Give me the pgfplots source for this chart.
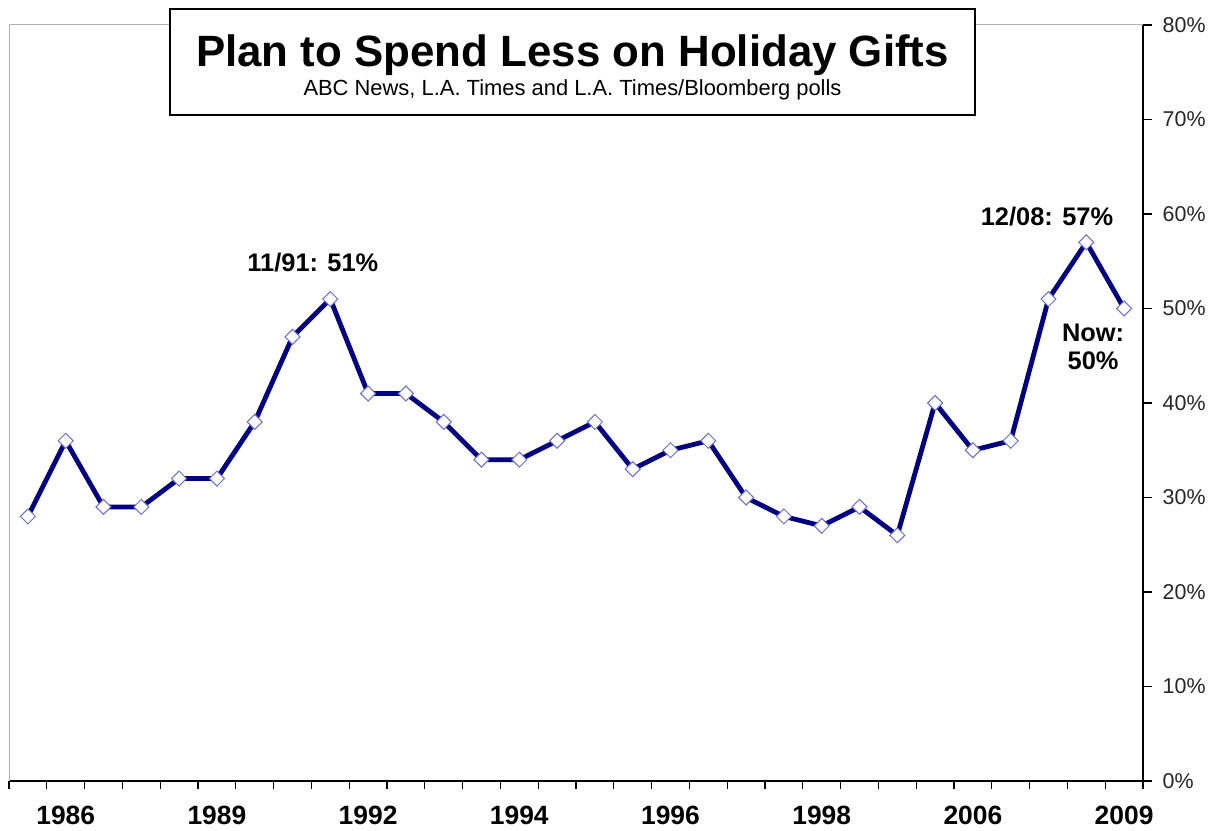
\documentclass[border=0pt]{standalone}
\usepackage{pgfplots}
\pgfplotsset{compat=1.18}
\usepackage{fontspec}
\setmainfont{Liberation Sans}
\definecolor{navyline}{RGB}{0,0,128}
\definecolor{markedge}{RGB}{110,110,200}
\begin{document}
\begin{tikzpicture}[x=1bp,y=1bp]
\useasboundingbox (0,0) rectangle (1216,831);
\begin{axis}[
 at={(9bp,50bp)}, anchor=south west,
 width=1134bp, height=756bp, scale only axis,
 xmin=-0.5, xmax=29.5, ymin=0, ymax=80,
 axis x line*=bottom, axis y line*=right,
 axis line style={-, black, line width=1.3bp},
 xtick={-0.5,0.5,1.5,2.5,3.5,4.5,5.5,6.5,7.5,8.5,9.5,10.5,11.5,12.5,13.5,14.5,15.5,16.5,17.5,18.5,19.5,20.5,21.5,22.5,23.5,24.5,25.5,26.5,27.5,28.5,29.5},
 xticklabels={},
 extra x ticks={1,5,9,13,17,21,25,29},
 extra x tick labels={1986,1989,1992,1994,1996,1998,2006,2009},
 extra x tick style={major tick length=0pt, xticklabel style={font=\bfseries\fontsize{26.5}{26.5}\selectfont, inner sep=0pt, anchor=north, yshift=-25bp}},
 major tick length=8.5bp, tick style={black, line width=1.3bp}, tick align=outside,
 ytick={0,10,20,30,40,50,60,70,80},
 yticklabels={0\%,10\%,20\%,30\%,40\%,50\%,60\%,70\%,80\%},
 yticklabel style={font=\fontsize{21.5}{21.5}\selectfont, text=black!85, anchor=west, inner sep=0pt, xshift=11bp},
 clip=false,
]
\draw[gray!60, line width=1bp] (rel axis cs:0,0) -- (rel axis cs:0,1) -- (rel axis cs:1,1);
\addplot[navyline, line width=4.8bp, mark=square*, mark size=5.3bp,
  mark options={rotate=45, fill=white, draw=markedge, line width=1bp, solid}]
 coordinates {
 (0,28) (1,36) (2,29) (3,29) (4,32) (5,32) (6,38) (7,47) (8,51) (9,41)
 (10,41) (11,38) (12,34) (13,34) (14,36) (15,38) (16,33) (17,35) (18,36) (19,30)
 (20,28) (21,27) (22,29) (23,26) (24,40) (25,35) (26,36) (27,51) (28,57) (29,50)
 };
\node[anchor=base, font=\bfseries\fontsize{25.5}{25.5}\selectfont] at (axis cs:7.54,53.9) {11/91: 51\%};
\node[anchor=base, font=\bfseries\fontsize{25.5}{25.5}\selectfont] at (axis cs:26.96,58.8) {12/08: 57\%};
\node[anchor=base, font=\bfseries\fontsize{25.5}{25.5}\selectfont] at (axis cs:28.18,46.46) {Now:};
\node[anchor=base, font=\bfseries\fontsize{25.5}{25.5}\selectfont] at (axis cs:28.18,43.5) {50\%};
\end{axis}
\node[draw=black, line width=1.2bp, fill=white, minimum width=805bp, minimum height=106bp, inner sep=0pt] at (572.5,769) {};
\node[anchor=base, inner sep=0pt, font=\bfseries\fontsize{44}{44}\selectfont] at (572.5,764) {Plan to Spend Less on Holiday Gifts};
\node[anchor=base, inner sep=0pt, font=\fontsize{22}{22}\selectfont] at (572.5,735) {ABC News, L.A. Times and L.A. Times/Bloomberg polls};
\end{tikzpicture}
\end{document}
